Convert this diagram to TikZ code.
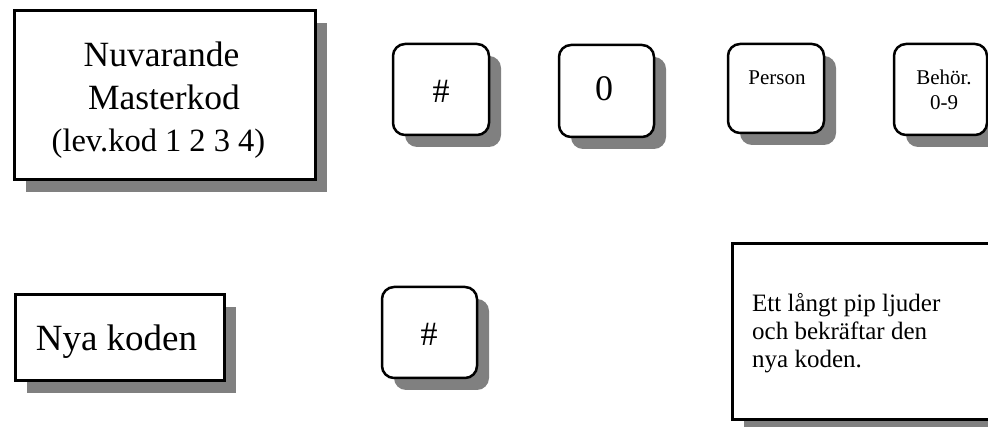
\documentclass[tikz,border=0pt]{standalone}
\usepackage{fontspec}
\setmainfont{Liberation Serif}
\usetikzlibrary{shadows}
\tikzset{
  shad/.style={drop shadow={shadow xshift=12pt,shadow yshift=-12pt,fill=shadowgray,opacity=1}},
  bigbox/.style={draw=black,line width=3pt,fill=white,shad,inner sep=0pt},
  keybox/.style={draw=black,line width=2.5pt,fill=white,rounded corners=12pt,shad,inner sep=0pt},
  txt/.style={inner sep=0pt,text=black},
}
\definecolor{shadowgray}{RGB}{128,128,128}
\begin{document}
\begin{tikzpicture}[x=1pt,y=-1pt]
\useasboundingbox (0,0) rectangle (988,427);
% top row
\node[bigbox,minimum width=301pt,minimum height=169pt] (b1) at (164.5,95.5) {};
\node[txt,anchor=base,font=\fontsize{35.5}{42}\selectfont] (b1a) at (161.5,67) {Nuvarande};
\node[txt,anchor=base,font=\fontsize{35.5}{42}\selectfont] (b1b) at (164,110) {Masterkod};
\node[txt,anchor=base,font=\fontsize{32.5}{38}\selectfont] (b1c) at (158.5,152) {(lev.kod 1 2 3 4)};

\node[keybox,minimum width=96pt,minimum height=91pt] (k1) at (441,89.5) {};
\node[txt,font=\fontsize{34}{40}\selectfont] (k1t) at (441,91) {\#};

\node[keybox,minimum width=95pt,minimum height=92pt] (k2) at (606.5,91) {};
\node[txt,font=\fontsize{36}{43}\selectfont] (k2t) at (604,89) {0};

\node[keybox,minimum width=96pt,minimum height=89pt] (k3) at (776,88.5) {};
\node[txt,anchor=base,font=\fontsize{21}{25}\selectfont] (k3t) at (777,85) {Person};

\node[keybox,minimum width=93pt,minimum height=91pt] (k4) at (940.5,89.5) {};
\node[txt,anchor=base,font=\fontsize{21}{25}\selectfont] (k4a) at (944,85) {Behör.};
\node[txt,anchor=base,font=\fontsize{21}{25}\selectfont] (k4b) at (944,110) {0-9};

% bottom row
\node[bigbox,minimum width=209pt,minimum height=86pt] (b2) at (119.5,338) {};
\node[txt,anchor=base,font=\fontsize{37}{44}\selectfont] (b2t) at (116.5,351) {Nya koden};

\node[keybox,minimum width=95pt,minimum height=91pt] (k5) at (429.5,332.5) {};
\node[txt,font=\fontsize{34}{40}\selectfont] (k5t) at (429,334.5) {\#};

\node[bigbox,minimum width=268pt,minimum height=176pt] (b3) at (866,332) {};
\node[txt,anchor=base west,font=\fontsize{25}{28}\selectfont] (b3a) at (752,312) {Ett långt pip ljuder};
\node[txt,anchor=base west,font=\fontsize{25}{28}\selectfont] (b3b) at (752,340) {och bekräftar den};
\node[txt,anchor=base west,font=\fontsize{25}{28}\selectfont] (b3c) at (752,368) {nya koden.};
\end{tikzpicture}
\end{document}
